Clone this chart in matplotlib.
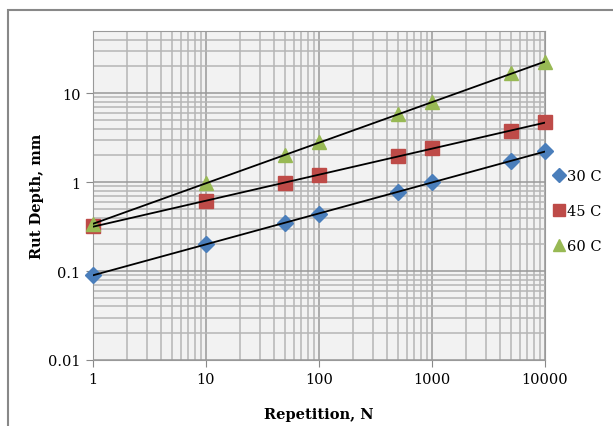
import numpy as np
import matplotlib
matplotlib.use("Agg")
import matplotlib.pyplot as plt
import matplotlib.ticker as mticker
from matplotlib.patches import Rectangle

# repetitions and rut depth (mm)
repetitions = [1, 10, 50, 100, 500, 1000, 5000, 10000]
rut_30c = [0.09, 0.20, 0.35, 0.44, 0.77, 1.0, 1.72, 2.23]
rut_45c = [0.32, 0.61, 0.98, 1.2, 1.96, 2.41, 3.74, 4.72]
rut_60c = [0.34, 0.97, 2.0, 2.8, 5.8, 7.9, 16.8, 22.3]
series_labels = ["30 C", "45 C", "60 C"]

plt.rcParams["font.family"] = ["DejaVu Serif"]

fig = plt.figure(figsize=(6.13, 4.27), dpi=100)
ax = fig.add_axes([93 / 613, 1 - 361 / 427, (545 - 93) / 613, (361 - 32) / 427])
ax.set_facecolor("#F2F2F2")

styles = [("D", "#4A7EBB", 8), ("s", "#BE4B48", 10), ("^", "#98B954", 10)]
x = np.array(repetitions, dtype=float)
for ys, lab, (mk, col, ms) in zip([rut_30c, rut_45c, rut_60c], series_labels, styles):
    y = np.array(ys)
    ax.plot(x, y, linestyle="none", marker=mk, color=col, markersize=ms,
            label=lab, zorder=3, clip_on=False)
    # power trendline like Excel
    b, a = np.polyfit(np.log10(x), np.log10(y), 1)
    xt = np.array([x.min(), x.max()])
    ax.plot(xt, 10 ** a * xt ** b, color="black", linewidth=1.3, zorder=4)

ax.set_xscale("log")
ax.set_yscale("log")
ax.set_xlim(1, 10000)
ax.set_ylim(0.01, 50)

ax.xaxis.set_major_formatter(mticker.FuncFormatter(lambda v, _: f"{v:g}"))
ax.yaxis.set_major_formatter(mticker.FuncFormatter(lambda v, _: f"{v:g}"))
ax.xaxis.set_minor_locator(mticker.LogLocator(base=10, subs=np.arange(2, 10)))
ax.yaxis.set_minor_locator(mticker.LogLocator(base=10, subs=np.arange(2, 10)))
ax.xaxis.set_minor_formatter(mticker.NullFormatter())
ax.yaxis.set_minor_formatter(mticker.NullFormatter())

ax.grid(which="major", color="#999999", linewidth=1.1)
ax.grid(which="minor", color="#B5B5B5", linewidth=1.1)
ax.set_axisbelow(True)
ax.tick_params(which="major", direction="out", length=5, color="#888888",
               labelsize=10.5, pad=4)
ax.tick_params(which="minor", length=0)
for sp in ax.spines.values():
    sp.set_color("#999999")

ax.set_xlabel("Repetition, N", fontsize=10.5, fontweight="bold", labelpad=15)
ax.set_ylabel("Rut Depth, mm", fontsize=10.5, fontweight="bold", labelpad=3)

ax.legend(loc="upper left", bbox_to_anchor=(1.005, 0.595), frameon=False,
          fontsize=10.5, handletextpad=0.05, labelspacing=1.45, markerscale=0.9,
          handlelength=1.0, borderaxespad=0.1, borderpad=0.2)

fig.patches.append(Rectangle((8 / 613, -0.1), 1.1, 1 - 11 / 427 + 0.1,
                             transform=fig.transFigure, fill=False,
                             edgecolor="#888888", linewidth=1.5))

fig.savefig("out.png", dpi=100)
